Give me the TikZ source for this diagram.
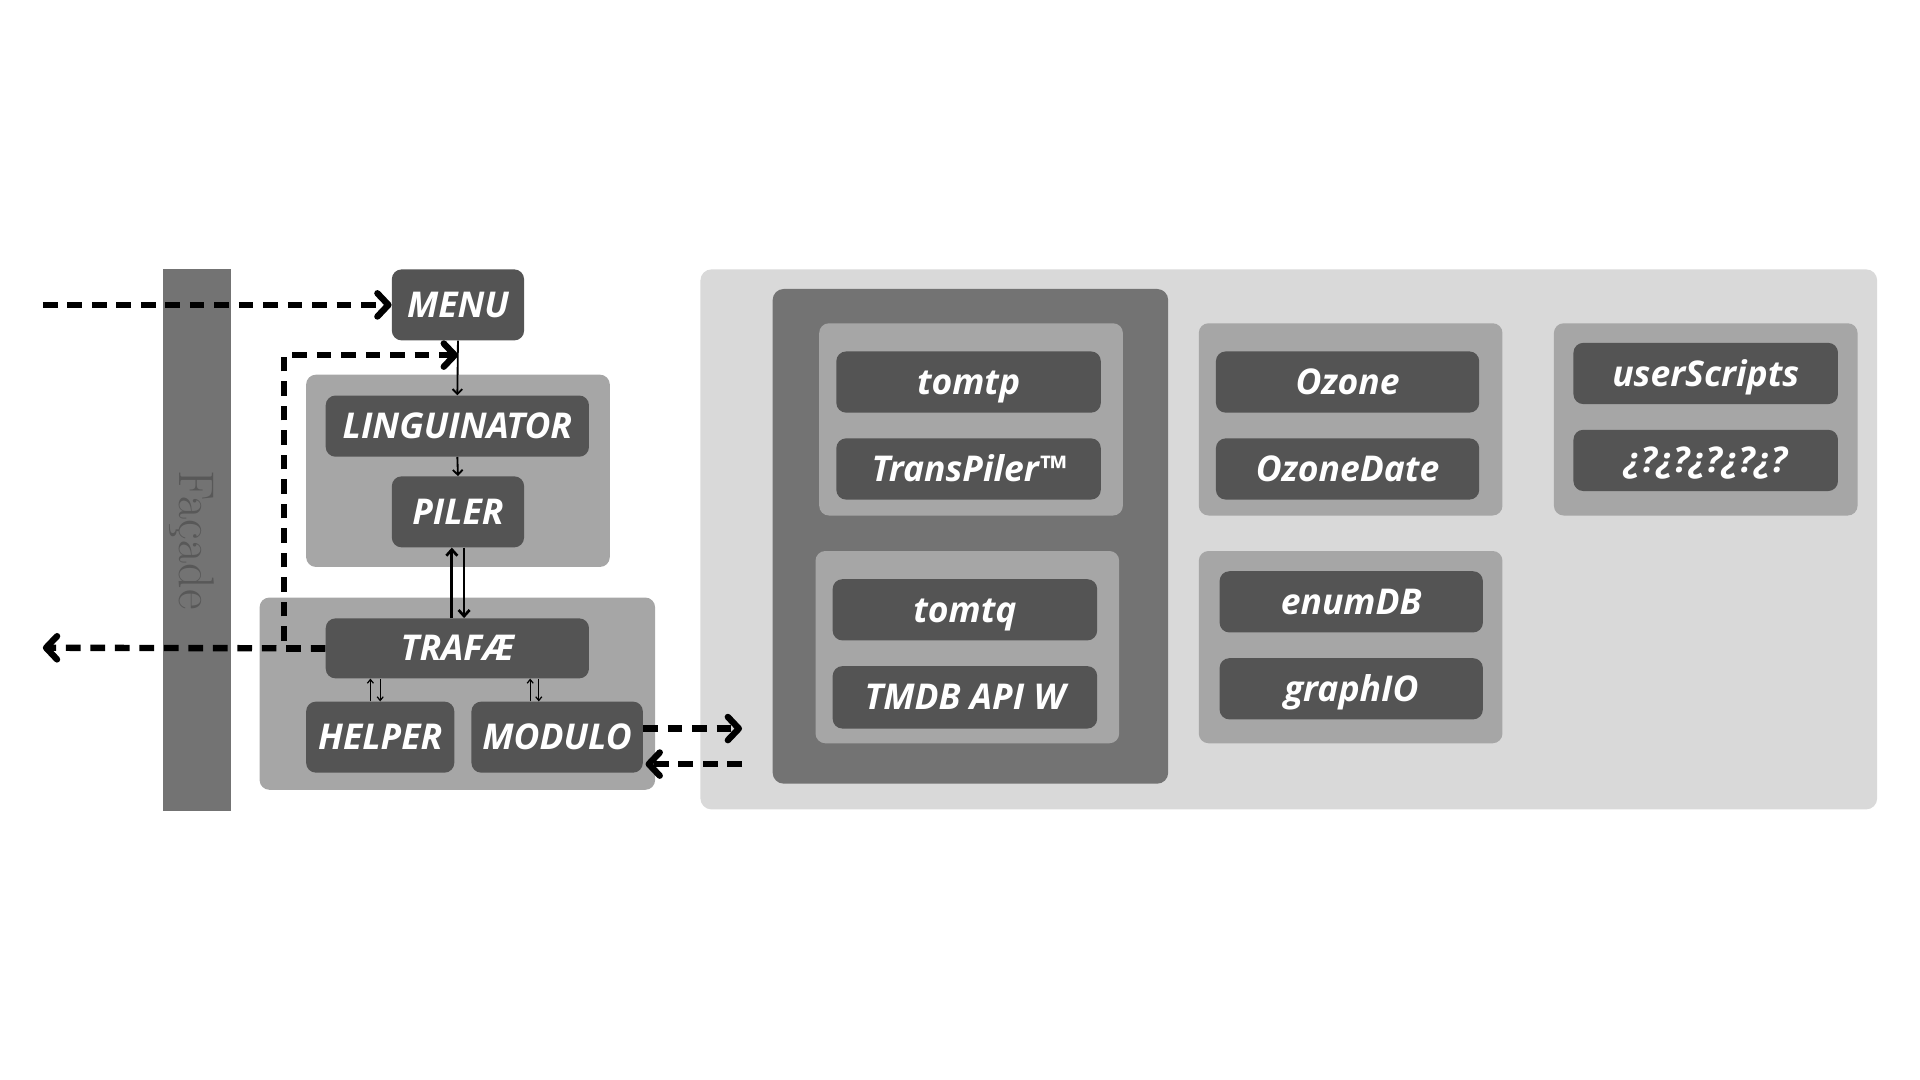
\documentclass[tikz,border=0pt]{standalone}
\usepackage{fontspec}
\setsansfont{Open Sans}
\usetikzlibrary{arrows.meta}
\definecolor{boxdark}{HTML}{545454}
\definecolor{grpmid}{HTML}{A6A6A6}
\definecolor{grpdark}{HTML}{737373}
\definecolor{panel}{HTML}{D9D9D9}
\definecolor{facadetext}{HTML}{585858}
\begin{document}
\begin{tikzpicture}[x=1pt,y=-1pt,
  blk/.style={fill=boxdark, rounded corners=8pt, inner sep=0pt, text=white,
    font=\fontsize{29}{29}\selectfont\sffamily\bfseries\itshape, text height=20.5pt, text depth=0pt,
    minimum height=50pt, minimum width=215pt},
  grp/.style={fill=grpmid, rounded corners=8pt, inner sep=0pt, minimum width=248pt, minimum height=157pt},
  dasharr/.style={line width=5.2pt, dash pattern=on 12pt off 8pt, -{Straight Barb[length=9pt,width=19pt,round]}},
  thinarr/.style={line width=1.5pt, -{Straight Barb[length=4pt,width=8pt]}},
  midarr/.style={line width=2.2pt, -{Straight Barb[length=5pt,width=9pt]}},
  tinyarr/.style={line width=1pt, -{Straight Barb[length=3pt,width=5pt]}},
]
\useasboundingbox (0,0) rectangle (1568,882);

% facade bar
\node[fill=grpdark, inner sep=0pt, minimum width=56pt, minimum height=442pt] (facade) at (161,441) {};
\node[rotate=-90, text=facadetext, font=\fontsize{41}{41}\selectfont] (facadelbl) at (157,441) {Façade};

% right panel
\node[fill=panel, rounded corners=9pt, inner sep=0pt, minimum width=961pt, minimum height=441pt] (panel) at (1052.5,440.5) {};
\node[fill=grpdark, rounded corners=9pt, inner sep=0pt, minimum width=323pt, minimum height=404pt] (tomgrp) at (792.5,438) {};
\node[grp] (g1) at (793,342.5) {};
\node[grp] (g2) at (790,528.5) {};
\node[grp] (g3) at (1103,342.5) {};
\node[grp] (g4) at (1103,528.5) {};
\node[grp] (g5) at (1393,342.5) {};

\node[blk, minimum width=216pt] (tomtp) at (791,312) {tomtp};
\node[blk, minimum width=216pt] (transpiler) at (791,383) {TransPiler™};
\node[blk, minimum width=216pt] (tomtq) at (788,498) {tomtq};
\node[blk, minimum width=216pt, minimum height=51pt] (tmdb) at (788,569.5) {TMDB API W};
\node[blk] (ozone) at (1100.5,312) {Ozone};
\node[blk] (ozonedate) at (1100.5,383) {OzoneDate};
\node[blk] (enumdb) at (1103.5,491.5) {enumDB};
\node[blk] (graphio) at (1103.5,562.5) {graphIO};
\node[blk, minimum width=216pt] (userscripts) at (1393,305) {userScripts};
\node[blk, minimum width=216pt] (qmarks) at (1393,376) {¿?¿?¿?¿?¿?};

% left cluster
\node[grp] (linggrp) at (374,384.5) {};
\node[grp, minimum width=323pt] (trafgrp) at (373.5,566.5) {};
\node[blk, minimum width=108pt, minimum height=58pt] (menu) at (374,249) {MENU};
\node[blk] (ling) at (373.5,348) {LINGUINATOR};
\node[blk, minimum width=108pt, minimum height=58pt] (piler) at (374,418) {PILER};
\node[blk, minimum height=49pt] (trafae) at (373.5,529.5) {TRAFÆ};
\node[blk, minimum width=121pt, minimum height=58pt] (helper) at (310.5,602) {HELPER};
\node[blk, minimum width=140pt, minimum height=58pt] (modulo) at (455,602) {MODULO};

% free ends
\coordinate (inL) at (35,249);
\coordinate (outL) at (35,529);
\coordinate (loop) at (232,290);
\coordinate (outR) at (606,595);
\coordinate (inR) at (606,624);

% arrows
\draw[dasharr] (inL) -- (menu.west);
\draw[dasharr] (trafae.west) -- (outL);
\draw[dasharr] (trafae.west) -| (loop) -- (menu.south |- loop);
\draw[thinarr] (menu.south) -- (ling.north);
\draw[thinarr] (ling.south) -- (piler.north);
\draw[midarr] ([xshift=-5pt]piler.south |- trafae.north) -- ([xshift=-5pt]piler.south);
\draw[midarr] ([xshift=5pt]piler.south) -- ([xshift=5pt]piler.south |- trafae.north);
\draw[tinyarr] ([xshift=-8pt]helper.north) -- ([xshift=-8pt]helper.north |- trafae.south);
\draw[tinyarr] ([xshift=0pt]helper.north |- trafae.south) -- ([xshift=0pt]helper.north);
\draw[tinyarr] ([xshift=-22pt]modulo.north) -- ([xshift=-22pt]modulo.north |- trafae.south);
\draw[tinyarr] ([xshift=-15pt]modulo.north |- trafae.south) -- ([xshift=-15pt]modulo.north);
\draw[dasharr] (modulo.east |- outR) -- (outR);
\draw[dasharr] (inR) -- ([xshift=2pt]modulo.east |- inR);
\end{tikzpicture}
\end{document}
